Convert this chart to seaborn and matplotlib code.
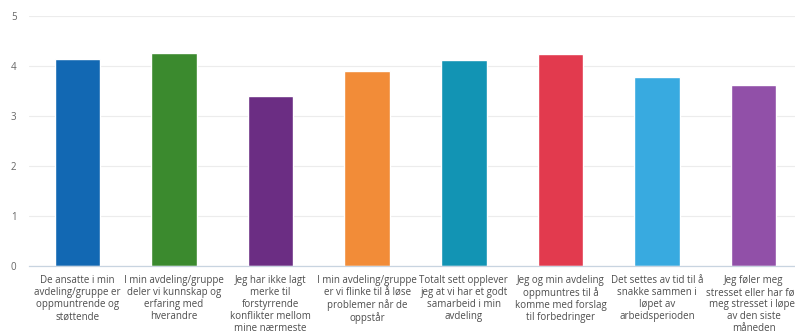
import matplotlib
matplotlib.use("Agg")
import matplotlib.pyplot as plt
import seaborn as sns
import pandas as pd

categories = [
    "De ansatte i min\navdeling/gruppe er\noppmuntrende og\nstøttende",
    "I min avdeling/gruppe\ndeler vi kunnskap og\nerfaring med\nhverandre",
    "Jeg har ikke lagt\nmerke til\nforstyrrende\nkonflikter mellom\nmine nærmeste",
    "I min avdeling/gruppe\ner vi flinke til å løse\nproblemer når de\noppstår",
    "Totalt sett opplever\njeg at vi har et godt\nsamarbeid i min\navdeling",
    "Jeg og min avdeling\noppmuntres til å\nkomme med forslag\ntil forbedringer",
    "Det settes av tid til å\nsnakke sammen i\nløpet av\narbeidsperioden",
    "Jeg føler meg\nstresset eller har følt\nmeg stresset i løpet\nav den siste\nmåneden",
]
values = [4.14, 4.26, 3.39, 3.89, 4.12, 4.24, 3.78, 3.61]
colors = ["#1268b3", "#3b8a2e", "#6b2d83", "#f28c38", "#1294b4", "#e23a4e", "#38aae0", "#9150a8"]
yticks = [0, 1, 2, 3, 4, 5]

df = pd.DataFrame({"cat": categories, "val": values})

sns.set_style("white")
plt.rcParams["font.family"] = ["Open Sans", "DejaVu Sans"]

fig = plt.figure(figsize=(7.95, 3.33), dpi=100)
ax = fig.add_axes([29 / 795, (333 - 265.7) / 333, 773 / 795, (265.7 - 16) / 333])

sns.barplot(data=df, x="cat", y="val", hue="cat", palette=colors, legend=False,
            width=0.47, ax=ax, saturation=1)

ax.set_xlim(-0.5, len(categories) - 0.5)
ax.set_ylim(0, 5)
ax.set_yticks(yticks)
ax.set_yticklabels([str(t) for t in yticks], color="#666666", fontsize=7)
ax.set_xlabel("")
ax.set_ylabel("")
ax.set_xticks(range(len(categories)))
ax.set_xticklabels(categories, fontsize=7, color="#4d4d4d", linespacing=1.12)
ax.tick_params(axis="x", length=0, pad=7)
ax.tick_params(axis="y", length=0, pad=9)
ax.set_xticks([i + 0.5 for i in range(len(categories) - 1)], minor=True)
ax.tick_params(axis="x", which="minor", length=5, color="#c8d4e0", width=0.8)

ax.grid(axis="y", color="#ececec", linewidth=0.8)
ax.set_axisbelow(True)
for s in ["top", "right", "left"]:
    ax.spines[s].set_visible(False)
ax.spines["bottom"].set_color("#c8d4e0")
ax.spines["bottom"].set_linewidth(0.9)

fig.savefig("out.png", dpi=100)
